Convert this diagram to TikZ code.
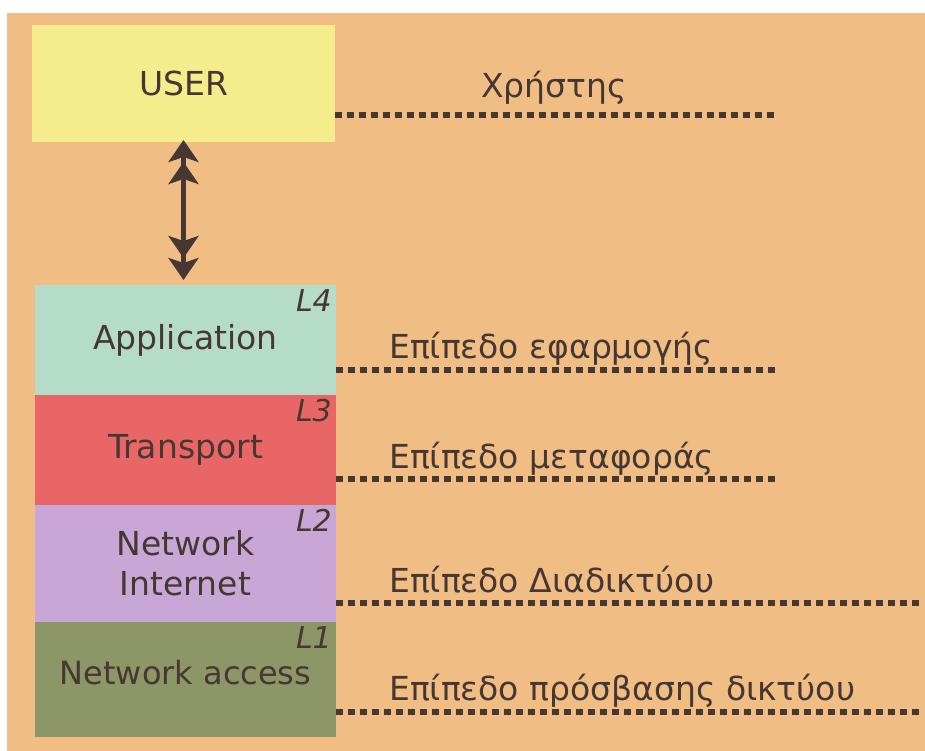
\documentclass[tikz,border=0pt]{standalone}
\usepackage{fontspec}
\setmainfont{DejaVu Sans}
\usetikzlibrary{arrows.meta,positioning}
\definecolor{bgtan}{RGB}{240,190,132}
\definecolor{usercol}{RGB}{245,236,140}
\definecolor{appcol}{RGB}{180,220,200}
\definecolor{transcol}{RGB}{232,102,102}
\definecolor{netcol}{RGB}{200,166,214}
\definecolor{acccol}{RGB}{140,150,102}
\definecolor{ink}{RGB}{70,55,50}

\begin{document}
\begin{tikzpicture}[x=1pt,y=-1pt,
  every node/.style={text=ink,font=\fontsize{33}{40}\selectfont},
  layer/.style={rectangle,inner sep=0pt,outer sep=0pt,minimum width=301pt,align=center},
  lnum/.style={font=\fontsize{30}{30}\selectfont\itshape,inner sep=4pt,anchor=north east},
  dotline/.style={draw=ink,line width=6pt,dash pattern=on 7pt off 5pt},
  greek/.style={anchor=base west,inner sep=0pt},
  >={Stealth[length=22pt,width=30pt,inset=5pt,fill=ink]}]
\useasboundingbox (0,0) rectangle (925,751);
\fill[white] (0,0) rectangle (925,751);
\fill[bgtan] (7,13) rectangle (925,751);

\node[layer,fill=usercol,minimum width=303pt,minimum height=117pt] (user) at (183.5,83.5) {USER};
\node[layer,fill=appcol,minimum height=110pt,label={[lnum]north east:L4}] (app) at (185.5,340) {Application};
\node[layer,fill=transcol,minimum height=110pt,label={[lnum]north east:L3}] (trans) at (185.5,450) {Transport};
\node[layer,fill=netcol,minimum height=117pt,label={[lnum]north east:L2}] (net) at (185.5,563.5) {Network\\Internet};
\node[layer,fill=acccol,minimum height=115pt,label={[lnum]north east:L1}] (acc) at (185.5,679.5) {\raisebox{14pt}{\fontsize{32}{36}\selectfont Network access}};

\draw[draw=ink,line width=5.5pt,<<->>,shorten <=-2pt,shorten >=5pt] (user.south) -- (app.north -| user.south);

\node[greek] (usergr) at (481,98) {Χρήστης};
\node[greek] (appgr) at (389,358) {Επίπεδο εφαρμογής};
\node[greek] (transgr) at (389,468) {Επίπεδο μεταφοράς};
\node[greek] (netgr) at (389,592) {Επίπεδο Διαδικτύου};
\node[greek] (accgr) at (389,700) {Επίπεδο πρόσβασης δικτύου};

\coordinate (uend) at (778,115);
\coordinate (aend) at (778,370);
\coordinate (tend) at (778,479);
\coordinate (nend) at (920,603);
\coordinate (cend) at (920,712);
\draw[dotline] (user.east |- uend) -- (uend);
\draw[dotline] (app.east |- aend) -- (aend);
\draw[dotline] (trans.east |- tend) -- (tend);
\draw[dotline] (net.east |- nend) -- (nend);
\draw[dotline] (acc.east |- cend) -- (cend);
\end{tikzpicture}
\end{document}
